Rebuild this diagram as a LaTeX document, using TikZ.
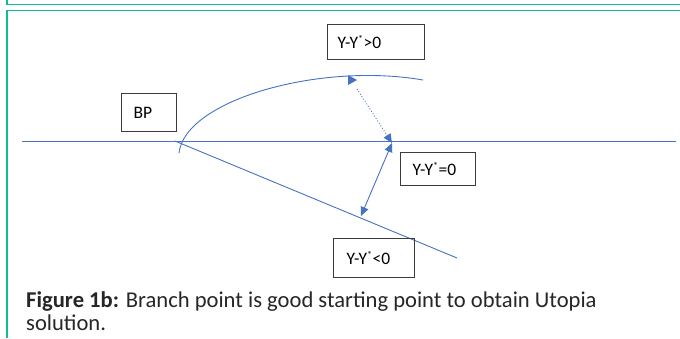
\documentclass[tikz,border=0pt]{standalone}
\usepackage{fontspec}
\setmainfont{Carlito}
\usetikzlibrary{arrows.meta}
\definecolor{framegreen}{RGB}{18,186,150}
\definecolor{lineblue}{RGB}{68,114,196}
\definecolor{boxgrey}{RGB}{60,60,60}
\definecolor{captext}{RGB}{38,38,38}
\newcommand{\ystar}{\textsuperscript{\fontsize{10}{10}\selectfont *}}
\tikzset{
  frameline/.style={draw=framegreen, line width=1.5pt},
  curve/.style={draw=lineblue, line width=0.9pt},
  tipblue/.style={-{Triangle[length=9pt,width=8pt]}},
  labelbox/.style={draw=boxgrey, line width=1.1pt, rectangle, anchor=north west,
    align=left, font=\fontsize{17.5}{17.5}\selectfont, text=black, inner ysep=0pt},
  caption/.style={anchor=base west, inner sep=0pt, text=captext,
    font=\fontsize{22.6}{22.6}\selectfont}
}
\begin{document}
\begin{tikzpicture}[x=1pt, y=-1pt]
  \useasboundingbox (0,0) rectangle (680,338);
  % page frame
  \draw[frameline] (7,0) -- (7,4.5) -- (680,4.5);
  \draw[frameline] (7,338) -- (7,10.5) -- (680,10.5);

  % reference points
  \coordinate (hl) at (22,141);
  \coordinate (hr) at (676,141);
  \coordinate (bp) at (175,141);
  \coordinate (lowend) at (457,258);
  \coordinate (arcstart) at (179,153);
  \coordinate (arcend) at (423,80);
  \coordinate (dotstart) at (357,89);
  \coordinate (meet) at (392,143);
  \coordinate (foot) at (361,216);

  % axis, lower branch and upper branch
  \draw[curve] (hl) -- (hr);
  \draw[curve] (bp) -- (lowend);
  \draw[curve] (arcstart) .. controls (185,100) and (320,62) .. (arcend);
  \fill[lineblue] (348,75) -- (357,80) -- (348,85) -- cycle;

  % distances to the axis
  \draw[curve, dotted, tipblue] (dotstart) -- (meet);
  \draw[curve, {Triangle[length=9pt,width=8pt]}-{Triangle[length=9pt,width=8pt]}] (meet) -- (foot);

  % labels
  \node[labelbox, minimum height=35pt, inner xsep=10pt, text width=77pt] (gt) at (327,24) {Y-Y\ystar>0};
  \node[labelbox, minimum height=38pt, inner xsep=12pt, text width=31pt] (bplabel) at (121,93) {BP};
  \node[labelbox, minimum height=33pt, inner xsep=12pt, text width=51pt] (eq) at (400,152) {Y-Y\ystar=0};
  \node[labelbox, minimum height=39pt, inner xsep=13pt, text width=55pt] (lt) at (333,238) {Y-Y\ystar<0};

  % caption
  \node[caption] (cap1) at (26,307) {\textbf{Figure 1b:} Branch point is good starting point to obtain Utopia};
  \node[caption] (cap2) at (26,330) {solution.};
\end{tikzpicture}
\end{document}
